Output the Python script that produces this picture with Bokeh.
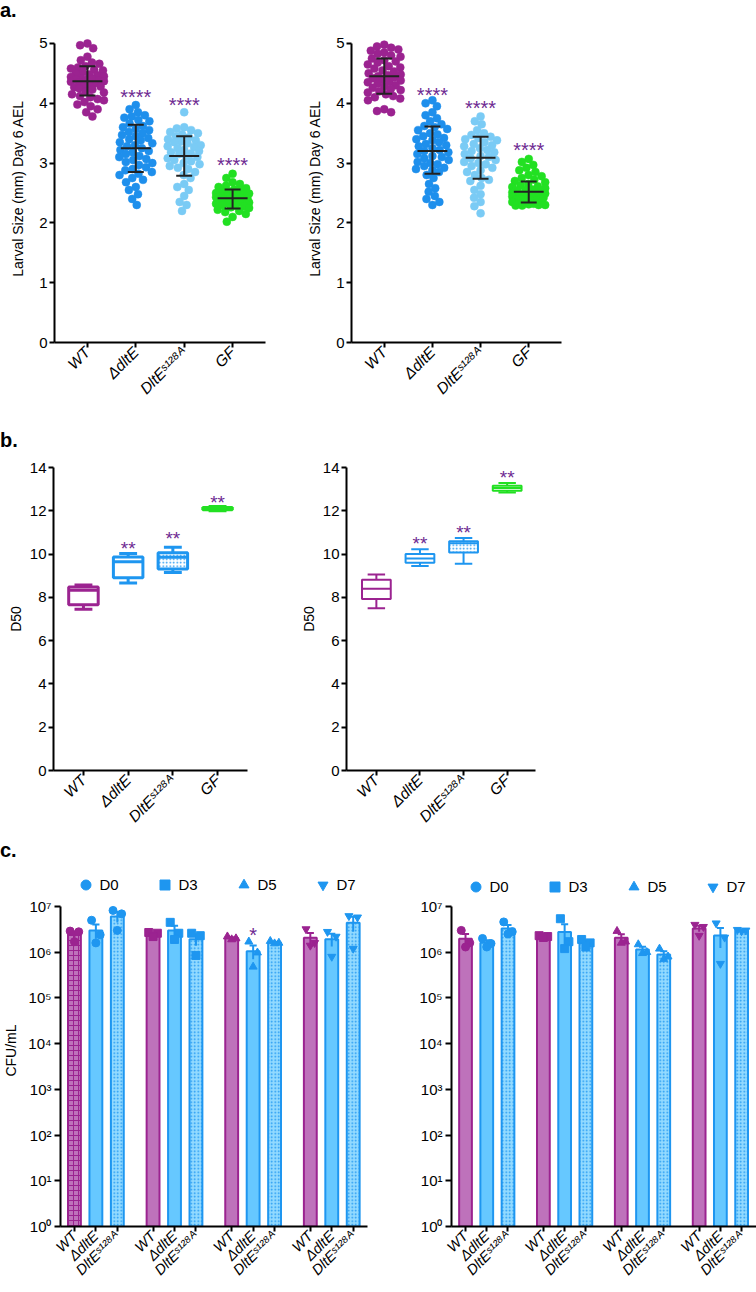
import math
from bokeh.plotting import figure
from bokeh.layouts import column, row
from bokeh.models import Div, FixedTicker, Legend, LegendItem, Range1d, ColumnDataSource
from bokeh.core.properties import value
from bokeh.embed import file_html
from bokeh.resources import INLINE

FONT = "Liberation Sans"

# ---------------- categories / labels ----------------
genotypes4 = ["WT", "ΔdltE", "DltEˢ¹²⁸ᴬ", "GF"]
genotypes3 = ["WT", "ΔdltE", "DltEˢ¹²⁸ᴬ"]
days = ["D0", "D3", "D5", "D7"]
day_markers = ["circle", "square", "triangle", "inverted_triangle"]

# ---------------- panel a (larval size, mm) ----------------
a1_wt = [5.00, 4.97, 4.92, 4.78, 4.72, 4.68, 4.66, 4.62, 4.60, 4.58, 4.56, 4.55, 4.52, 4.50, 4.48, 4.47,
         4.45, 4.44, 4.42, 4.41, 4.40, 4.39, 4.38, 4.37, 4.36, 4.35, 4.33, 4.32, 4.30, 4.28, 4.27, 4.25,
         4.23, 4.20, 4.18, 4.15, 4.12, 4.10, 4.07, 4.05, 4.02, 3.98, 3.95, 3.90, 3.85, 3.78]
a1_dlte = [3.97, 3.90, 3.85, 3.80, 3.78, 3.76, 3.72, 3.70, 3.66, 3.62, 3.60, 3.57, 3.55, 3.52, 3.50, 3.47,
           3.45, 3.42, 3.40, 3.38, 3.35, 3.33, 3.30, 3.28, 3.25, 3.22, 3.20, 3.18, 3.15, 3.12, 3.10, 3.07,
           3.05, 3.02, 3.00, 2.97, 2.93, 2.90, 2.88, 2.85, 2.82, 2.80, 2.75, 2.72, 2.68, 2.60, 2.55, 2.48,
           2.40, 2.30]
a1_s128a = [3.85, 3.60, 3.58, 3.55, 3.52, 3.50, 3.48, 3.45, 3.43, 3.40, 3.38, 3.36, 3.35, 3.33, 3.30, 3.28,
            3.27, 3.25, 3.22, 3.20, 3.18, 3.16, 3.15, 3.12, 3.10, 3.08, 3.05, 3.03, 3.00, 2.98, 2.95, 2.92,
            2.90, 2.85, 2.80, 2.75, 2.65, 2.60, 2.55, 2.45, 2.35, 2.30, 2.20]
a1_gf = [2.82, 2.75, 2.68, 2.65, 2.62, 2.60, 2.58, 2.56, 2.55, 2.53, 2.52, 2.50, 2.49, 2.48, 2.47, 2.46,
         2.45, 2.44, 2.43, 2.42, 2.41, 2.40, 2.40, 2.39, 2.38, 2.37, 2.36, 2.35, 2.34, 2.33, 2.32, 2.30,
         2.29, 2.28, 2.26, 2.25, 2.22, 2.20, 2.18, 2.15, 2.10, 2.02]
a1_mean = [4.37, 3.25, 3.12, 2.41]
a1_sd_hi = [4.62, 3.64, 3.45, 2.56]
a1_sd_lo = [4.13, 2.85, 2.79, 2.24]
a1_star_y = [4.18, 4.03, 3.04]

a2_wt = [4.98, 4.95, 4.93, 4.90, 4.88, 4.85, 4.83, 4.80, 4.78, 4.75, 4.72, 4.70, 4.68, 4.65, 4.62, 4.60,
         4.58, 4.55, 4.53, 4.50, 4.48, 4.47, 4.45, 4.43, 4.42, 4.40, 4.38, 4.36, 4.35, 4.33, 4.30, 4.28,
         4.26, 4.24, 4.22, 4.20, 4.18, 4.15, 4.12, 4.10, 4.08, 4.05, 3.90, 3.87, 3.85]
a2_dlte = [4.05, 4.00, 3.95, 3.85, 3.80, 3.75, 3.70, 3.65, 3.62, 3.60, 3.57, 3.55, 3.50, 3.48, 3.45, 3.42,
           3.40, 3.38, 3.35, 3.32, 3.30, 3.28, 3.25, 3.22, 3.20, 3.18, 3.15, 3.12, 3.10, 3.08, 3.05, 3.02,
           3.00, 2.98, 2.95, 2.92, 2.90, 2.88, 2.85, 2.80, 2.75, 2.65, 2.58, 2.52, 2.45, 2.40, 2.35, 2.30]
a2_s128a = [3.78, 3.70, 3.65, 3.55, 3.50, 3.47, 3.44, 3.42, 3.40, 3.38, 3.35, 3.32, 3.30, 3.28, 3.25, 3.22,
            3.20, 3.18, 3.15, 3.12, 3.10, 3.08, 3.05, 3.02, 3.00, 2.98, 2.95, 2.92, 2.88, 2.85, 2.80, 2.75,
            2.72, 2.70, 2.62, 2.55, 2.48, 2.42, 2.35, 2.28, 2.16]
a2_gf = [3.07, 3.02, 2.97, 2.92, 2.88, 2.85, 2.80, 2.78, 2.75, 2.72, 2.70, 2.68, 2.65, 2.63, 2.61, 2.60,
         2.58, 2.56, 2.55, 2.54, 2.52, 2.51, 2.50, 2.49, 2.48, 2.47, 2.46, 2.45, 2.44, 2.43, 2.42, 2.41,
         2.40, 2.39, 2.38, 2.37, 2.36, 2.35, 2.34, 2.33, 2.32, 2.31, 2.30, 2.30, 2.29, 2.29]
a2_mean = [4.45, 3.20, 3.09, 2.52]
a2_sd_hi = [4.75, 3.61, 3.44, 2.69]
a2_sd_lo = [4.16, 2.82, 2.74, 2.34]
a2_star_y = [4.21, 3.99, 3.29]

# ---------------- panel b (D50 box plots) ----------------
b1_min = [7.45, 8.66, 9.15, 12.00]
b1_q1 = [7.66, 8.91, 9.31, 12.05]
b1_med = [8.33, 9.64, 9.85, 12.10]
b1_q3 = [8.48, 9.87, 10.06, 12.15]
b1_max = [8.57, 10.03, 10.31, 12.20]
b1_star_y = [10.45, 10.90, 12.58]

b2_min = [7.50, 9.45, 9.55, 12.84]
b2_q1 = [7.92, 9.60, 10.07, 12.93]
b2_med = [8.40, 9.80, 10.50, 13.05]
b2_q3 = [8.81, 10.00, 10.59, 13.16]
b2_max = [9.06, 10.22, 10.74, 13.28]
b2_star_y = [10.68, 11.20, 13.70]

# ---------------- panel c (CFU/mL, replicates per day) ----------------
c1_wt = [[2.9e6, 2.8e6, 1.7e6], [2.7e6, 2.6e6, 2.2e6], [2.2e6, 2.0e6, 1.9e6], [3.2e6, 1.6e6, 1.4e6]]
c1_dlte = [[5.0e6, 2.4e6, 1.6e6], [4.5e6, 2.6e6, 1.9e6], [1.7e6, 0.98e6, 0.48e6], [2.8e6, 2.2e6, 0.8e6]]
c1_s128a = [[8.2e6, 6.9e6, 3.0e6], [2.6e6, 2.3e6, 0.85e6], [1.75e6, 1.6e6, 1.55e6], [6.2e6, 5.8e6, 1.2e6]]
c1_star_bar = 7
c1_star_y = 2.9e6

c2_wt = [[3.0e6, 1.6e6, 1.3e6], [2.3e6, 2.2e6, 2.1e6], [2.9e6, 1.7e6, 1.6e6], [4.0e6, 3.6e6, 2.3e6]]
c2_dlte = [[2.0e6, 1.55e6, 1.3e6], [5.4e6, 1.7e6, 1.2e6], [1.48e6, 1.0e6, 0.95e6], [4.3e6, 2.1e6, 0.56e6]]
c2_s128a = [[4.6e6, 2.8e6, 2.5e6], [1.9e6, 1.6e6, 1.3e6], [1.19e6, 0.8e6, 0.7e6], [3.1e6, 3.0e6, 2.9e6]]

log_ticks = [1, 10, 100, 1000, 10000, 100000, 1000000, 10000000]
log_labels = ["10⁰", "10¹", "10²", "10³", "10⁴", "10⁵", "10⁶", "10⁷"]

# ---------------- colours ----------------
C_WT = "#9B2390"
C_DLTE = "#1E8FEC"
C_S128A_A = "#7ACBF5"
C_GF = "#22E022"
C_STAR = "#6E2A92"
C_BLUE = "#1E96F0"
C_WT_BAR = "#BE72BB"
C_DLTE_BAR = "#66C8FF"
C_S128A_BAR = "#92DAFF"
C_ERR = "#222222"


def swarm_offsets(vals, ppu_y, ppu_x, d=7.5, maxw=16.5):
    ys = [v * ppu_y for v in vals]
    order = sorted(range(len(vals)), key=lambda i: -ys[i])
    placed = []
    out = [0.0] * len(vals)
    for i in order:
        y = ys[i]
        cands = {0.0}
        for (px, py) in placed:
            dy = abs(py - y)
            if dy < d:
                dx = math.sqrt(d * d - dy * dy)
                cands.add(px + dx)
                cands.add(px - dx)
        best = None
        for c in sorted(cands, key=lambda c: (abs(c), c)):
            if abs(c) > maxw + 1e-9:
                continue
            if all((c - px) ** 2 + (y - py) ** 2 >= d * d - 1e-6 for px, py in placed):
                best = c
                break
        if best is None:
            grid = [-maxw + k * maxw / 10.0 for k in range(21)]
            best = max(grid, key=lambda c: min((c - px) ** 2 + (y - py) ** 2 for px, py in placed))
        placed.append((best, y))
        out[i] = best / ppu_x
    return out


def base_fig(width, height, xr, yr, bl, br, bt, bb, y_type="linear"):
    p = figure(width=width, height=height, x_range=xr, y_range=yr, y_axis_type=y_type,
               output_backend="svg", toolbar_location=None, title=None,
               min_border_left=bl, min_border_right=br, min_border_top=bt, min_border_bottom=bb)
    p.outline_line_color = None
    p.xgrid.grid_line_color = None
    p.ygrid.grid_line_color = None
    p.background_fill_color = "white"
    p.border_fill_color = "white"
    for ax in (p.xaxis[0], p.yaxis[0]):
        ax.axis_line_width = 2
        ax.axis_line_color = "black"
        ax.major_tick_line_width = 2
        ax.major_tick_line_color = "black"
        ax.major_tick_out = 5
        ax.major_tick_in = 0
        ax.minor_tick_line_color = None
        ax.major_label_text_font = FONT
        ax.major_label_text_font_size = "15px"
        ax.major_label_text_color = "black"
        ax.axis_label_text_font = FONT
        ax.axis_label_text_font_style = "normal"
        ax.axis_label_text_font_size = "14px"
        ax.axis_label_text_color = "black"
    return p


def set_x_labels(p, ticks, labels, size="15px", standoff=2):
    xa = p.xaxis[0]
    xa.ticker = FixedTicker(ticks=ticks)
    xa.major_label_overrides = {t: l for t, l in zip(ticks, labels)}
    xa.major_label_orientation = math.pi / 4
    xa.major_label_text_font_style = "italic"
    xa.major_label_text_font_size = size
    xa.major_label_standoff = standoff


def stars(p, xs, ys, txt, size):
    p.text(x=xs, y=ys, text=[txt] * len(xs), text_font=value(FONT), text_font_size=size,
           text_color=C_STAR, text_align="center", text_baseline="middle", y_offset=4)


def panel_a(width, bl, br, groups, means, hi, lo, star_y):
    p = base_fig(width, 408, Range1d(0.32, 4.68), Range1d(0, 5.15), bl, br, 14, 86)
    cols = [C_WT, C_DLTE, C_S128A_A, C_GF]
    for k, (vals, col) in enumerate(zip(groups, cols)):
        offs = swarm_offsets(vals, 59.8, 48.4)
        p.scatter(x=[k + 1 + o for o in offs], y=vals, size=8, fill_color=col, line_color=col,
                  line_width=0.5)
    xs = [1, 2, 3, 4]
    p.segment(x0=xs, y0=lo, x1=xs, y1=hi, line_width=2, line_color=C_ERR)
    p.segment(x0=[x - 0.31 for x in xs], y0=means, x1=[x + 0.31 for x in xs], y1=means,
              line_width=2, line_color=C_ERR)
    p.segment(x0=[x - 0.165 for x in xs], y0=hi, x1=[x + 0.165 for x in xs], y1=hi,
              line_width=2, line_color=C_ERR)
    p.segment(x0=[x - 0.165 for x in xs], y0=lo, x1=[x + 0.165 for x in xs], y1=lo,
              line_width=2, line_color=C_ERR)
    stars(p, [2, 3, 4], star_y, "****", "20px")
    ya = p.yaxis[0]
    ya.ticker = FixedTicker(ticks=[0, 1, 2, 3, 4, 5])
    ya.bounds = (0, 5)
    ya.axis_label = "Larval Size (mm) Day 6 AEL"
    ya.major_label_standoff = 2
    ya.axis_label_standoff = 10
    set_x_labels(p, xs, genotypes4, size="15.5px")
    return p


def panel_b(width, bl, br, bt, bb, xr, mins, q1, med, q3, maxs, lw, star_y):
    p = base_fig(width, 386, xr, Range1d(0, 14), bl, br, bt, bb)
    xs = [1, 2, 3, 4]
    cols = [C_WT, C_BLUE, C_BLUE, C_GF]
    hatches = ["blank", "blank", "dot", "blank"]
    p.vbar(x=xs, width=0.66, bottom=q1, top=q3, fill_color="white", line_color=cols, line_width=lw,
           hatch_pattern=hatches, hatch_color=C_BLUE, hatch_scale=3.5, hatch_weight=1.2)
    p.segment(x0=[x - 0.33 for x in xs], y0=med, x1=[x + 0.33 for x in xs], y1=med,
              line_color=cols, line_width=lw)
    p.segment(x0=xs, y0=q3, x1=xs, y1=maxs, line_color=cols, line_width=lw)
    p.segment(x0=xs, y0=q1, x1=xs, y1=mins, line_color=cols, line_width=lw)
    p.segment(x0=[x - 0.2 for x in xs], y0=maxs, x1=[x + 0.2 for x in xs], y1=maxs,
              line_color=cols, line_width=lw)
    p.segment(x0=[x - 0.2 for x in xs], y0=mins, x1=[x + 0.2 for x in xs], y1=mins,
              line_color=cols, line_width=lw)
    stars(p, [2, 3, 4], star_y, "**", "19px")
    ya = p.yaxis[0]
    ya.ticker = FixedTicker(ticks=[0, 2, 4, 6, 8, 10, 12, 14])
    ya.axis_label = "D50"
    ya.major_label_standoff = 2
    ya.axis_label_standoff = 3
    set_x_labels(p, xs, genotypes4, size="15.5px")
    return p


def mean_sem(reps):
    n = len(reps)
    m = sum(reps) / n
    sd = math.sqrt(sum((r - m) ** 2 for r in reps) / (n - 1))
    return m, sd / math.sqrt(n)


def panel_c(width, bl, br, bt, bb, xr, wt, dlte, s128a, ylabel, leg_loc, cross_first, star):
    p = base_fig(width, 430, xr, Range1d(1, 10 ** 7.7), bl, br, bt, bb, y_type="log")
    bx, btop, bfill, bline, bhatch, bhscale = [], [], [], [], [], []
    ex, elo, ehi, ecol = [], [], [], []
    px, py, pm, pc = [], [], [], []
    jit = [-0.6, 0.6, 0.0]
    series = [(wt, C_WT_BAR, C_WT), (dlte, C_DLTE_BAR, C_BLUE), (s128a, C_S128A_BAR, C_BLUE)]
    ticks = []
    for g in range(4):
        for k, (ser, fc, lc) in enumerate(series):
            x = g * 11 + k * 3
            ticks.append(x)
            reps = ser[g]
            m, sem = mean_sem(reps)
            bx.append(x)
            btop.append(m)
            bfill.append(fc)
            bline.append(lc)
            if k == 2:
                bhatch.append("dot"); bhscale.append(3.5)
            elif k == 0 and g == 0 and cross_first:
                bhatch.append("cross"); bhscale.append(5)
            else:
                bhatch.append("blank"); bhscale.append(5)
            ex.append(x); elo.append(max(m - sem, 1.5)); ehi.append(m + sem); ecol.append(lc)
            for j, r in enumerate(reps):
                px.append(x + jit[j]); py.append(r); pm.append(day_markers[g]); pc.append(lc)
    hcol = [C_WT if h == "cross" else C_BLUE for h in bhatch]
    p.vbar(x=bx, width=1.8, bottom=1, top=btop, fill_color=bfill, line_color=bline, line_width=2,
           hatch_pattern=bhatch, hatch_color=hcol, hatch_scale=bhscale, hatch_weight=1)
    p.segment(x0=ex, y0=elo, x1=ex, y1=ehi, line_color=ecol, line_width=2)
    p.segment(x0=[x - 0.5 for x in ex], y0=ehi, x1=[x + 0.5 for x in ex], y1=ehi,
              line_color=ecol, line_width=2)
    src = ColumnDataSource(dict(x=px, y=py, marker=pm, color=pc))
    p.scatter(x="x", y="y", marker="marker", source=src, size=8, fill_color="color", line_color="color")
    if star is not None:
        sb, sy = star
        stars(p, [bx[sb]], [sy], "*", "20px")
    items = []
    for m, lab in zip(day_markers, days):
        # a single off-range point, so that the legend glyph has something to style
        r = p.scatter(x=[-100], y=[1e6], marker=m, size=10, fill_color=C_BLUE, line_color=C_BLUE)
        items.append(LegendItem(label=lab, renderers=[r]))
    leg = Legend(items=items, orientation="horizontal", location=leg_loc, spacing=32,
                 glyph_width=25, glyph_height=25, label_standoff=2, padding=0, margin=0,
                 border_line_color=None, background_fill_alpha=0,
                 label_text_font=FONT, label_text_font_size="15px", label_text_color="black")
    p.add_layout(leg)
    ya = p.yaxis[0]
    ya.ticker = FixedTicker(ticks=log_ticks)
    ya.major_label_overrides = {t: l for t, l in zip(log_ticks, log_labels)}
    ya.bounds = (1, 10 ** 7)
    ya.major_tick_out = 6
    ya.major_label_standoff = 3
    if ylabel:
        ya.axis_label = ylabel
        ya.axis_label_standoff = 6
    xa = p.xaxis[0]
    xa.major_tick_out = 5
    set_x_labels(p, ticks, genotypes3 * 4, size="14.5px", standoff=2)
    return p


def heading(t, h, lh):
    return Div(text='<div style="font-family:\'Liberation Sans\',Arial,sans-serif;font-weight:bold;'
                    'font-size:20px;line-height:%dpx;margin:0;padding:0;">%s</div>' % (lh, t),
               width=700, height=h, margin=(0, 0, 0, 0))


pa1 = panel_a(304, 54, 39, [a1_wt, a1_dlte, a1_s128a, a1_gf], a1_mean, a1_sd_hi, a1_sd_lo, a1_star_y)
pa2 = panel_a(452, 46, 195, [a2_wt, a2_dlte, a2_s128a, a2_gf], a2_mean, a2_sd_hi, a2_sd_lo, a2_star_y)

pb1 = panel_b(297, 53, 50, 11, 68, Range1d(0.33, 4.67), b1_min, b1_q1, b1_med, b1_q3, b1_max, 3,
              b1_star_y)
pb2 = panel_b(459, 45, 221, 15, 66, Range1d(0.315, 4.65), b2_min, b2_q1, b2_med, b2_q3, b2_max, 2,
              b2_star_y)

pc1 = panel_c(406, 59, 39, 7, 65, Range1d(-1.95, 41.0), c1_wt, c1_dlte, c1_s128a, "CFU/mL",
              (12.5, 329), True, (c1_star_bar, c1_star_y))
pc2 = panel_c(350, 45, 0, 12, 66, Range1d(-1.98, 41.1), c2_wt, c2_dlte, c2_s128a, None,
              (11.5, 327), False, None)

layout = column(
    heading("a.", 20, 20),
    row(pa1, pa2),
    heading("b.", 24, 24),
    row(pb1, pb2),
    heading("c.", 24, 24),
    row(pc1, pc2),
)

open("out.html", "w").write(file_html(layout, INLINE))
